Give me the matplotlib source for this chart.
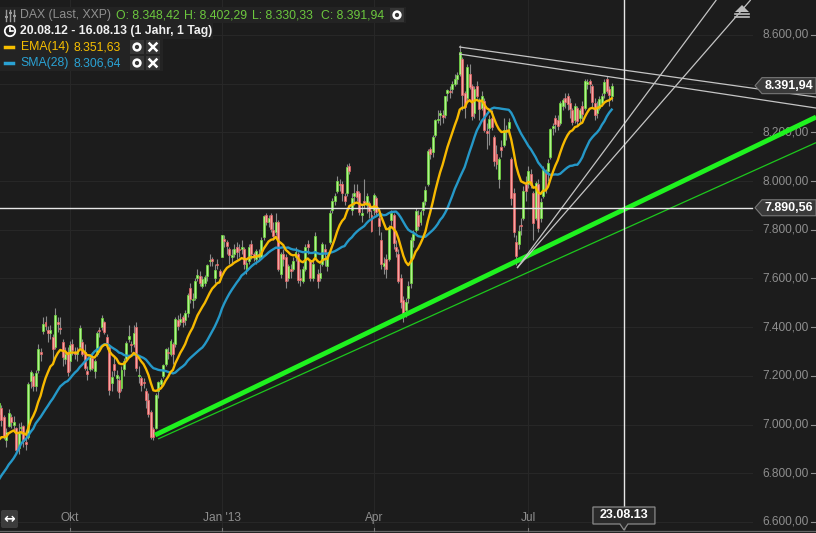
import numpy as np
import pandas as pd
import matplotlib
matplotlib.use("Agg")
import matplotlib.pyplot as plt
from matplotlib.patches import Polygon, Circle, Rectangle, FancyBboxPatch
from matplotlib.lines import Line2D
from matplotlib.transforms import IdentityTransform, blended_transform_factory

plt.rcParams['font.family'] = ['Liberation Sans', 'DejaVu Sans']

# --- data -------------------------------------------------------------
# XETRA trading days 20.08.12 - 16.08.13
holidays = ["2012-12-24", "2012-12-25", "2012-12-26", "2012-12-31", "2013-01-01",
            "2013-03-29", "2013-04-01", "2013-05-01"]
dates = pd.bdate_range("2012-08-20", "2013-08-16")
dates = dates[~dates.isin(pd.to_datetime(holidays))]

# closes Jul 2 - Aug 17 2012, only used to warm up EMA/SMA
warmup_close = [6578, 6601, 6627, 6535, 6410, 6387, 6437, 6444, 6419, 6558,
                6553, 6577, 6578, 6667, 6630, 6420, 6390, 6405, 6582, 6690,
                6773, 6772,
                6808, 6606, 6944, 6919, 6967, 6966, 6964, 6945, 6929, 6970,
                6947, 6953, 7041]

opens = (
    [7030, 7045, 7070, 7030, 6935, 6995, 7030, 7000, 6985, 6905]
    + [6985, 6995, 6925, 6950, 7180, 7200, 7160, 7225, 7300, 7385, 7420, 7390, 7375, 7360, 7320, 7420, 7395, 7340, 7270, 7300]
    + [7260, 7330, 7300, 7290, 7320, 7340, 7300, 7220, 7230, 7275, 7220, 7290, 7390, 7400, 7420, 7360, 7320, 7170, 7250, 7190, 7185, 7150, 7230]
    + [7270, 7350, 7330, 7330, 7400, 7200, 7190, 7175, 7140, 7100, 7050, 6980, 6985, 7140, 7165, 7200, 7250, 7300, 7290, 7330, 7330, 7430]
    + [7420, 7440, 7430, 7460, 7560, 7510, 7520, 7600, 7610, 7570, 7580, 7610, 7670, 7680, 7600, 7660, 7630]
    + [7690, 7760, 7750, 7720, 7690, 7700, 7730, 7720, 7720, 7720, 7640, 7670, 7740, 7700, 7680, 7690, 7690, 7770, 7860, 7830, 7860, 7800]
    + [7790, 7830, 7620, 7700, 7690, 7600, 7640, 7640, 7690, 7700, 7600, 7590, 7640, 7740, 7670, 7600, 7690, 7620, 7600, 7660]
    + [7720, 7650, 7750, 7880, 7920, 7960, 7990, 7990, 7940, 7950, 8060, 7880, 7940, 7960, 7950, 7860, 7920, 7900, 7910, 7860]
    + [7880, 7930, 7850, 7760, 7650, 7680, 7680, 7840, 7860, 7730, 7700, 7600, 7510, 7470, 7520, 7580, 7760, 7800, 7860, 7830, 7880]
    + [7920, 7990, 8130, 8120, 8190, 8250, 8270, 8270, 8270, 8360, 8370, 8380, 8400, 8420, 8440, 8500, 8360, 8340, 8440, 8390, 8280, 8390]
    + [8330, 8300, 8330, 8200, 8220, 8260, 8180, 8110, 8010, 8140, 8150, 8200, 8220, 8090, 7950, 7750, 7740, 7820, 7850, 7990]
    + [7990, 8030, 7950, 7850, 7990, 7850, 7940, 8040, 8040, 8100, 8220, 8260, 8250, 8240, 8310, 8340, 8350, 8320, 8290, 8250, 8300, 8260, 8310]
    + [8300, 8400, 8410, 8390, 8320, 8280, 8300, 8320, 8360, 8420, 8380, 8348.42]
)
highs = (
    [7062, 7105, 7080, 7040, 6985, 7062, 7045, 7035, 6990, 7005]
    + [7010, 7000, 6960, 7175, 7225, 7210, 7225, 7330, 7315, 7440, 7445, 7405, 7410, 7370, 7478, 7440, 7440, 7350, 7320, 7320]
    + [7345, 7350, 7320, 7320, 7410, 7350, 7330, 7240, 7290, 7300, 7270, 7385, 7400, 7450, 7425, 7370, 7330, 7220, 7280, 7225, 7200, 7240, 7275]
    + [7345, 7410, 7345, 7410, 7420, 7240, 7200, 7190, 7150, 7130, 7060, 6990, 7130, 7180, 7190, 7250, 7315, 7320, 7350, 7340, 7440, 7450]
    + [7460, 7450, 7470, 7540, 7580, 7540, 7600, 7640, 7630, 7610, 7615, 7660, 7700, 7690, 7660, 7680, 7640]
    + [7780, 7780, 7760, 7730, 7720, 7740, 7750, 7740, 7760, 7730, 7680, 7740, 7760, 7710, 7720, 7720, 7770, 7860, 7870, 7860, 7870, 7830]
    + [7870, 7840, 7710, 7720, 7700, 7660, 7660, 7690, 7730, 7710, 7640, 7650, 7740, 7760, 7680, 7670, 7790, 7640, 7660, 7750]
    + [7740, 7700, 7880, 7930, 7950, 8020, 8010, 8000, 7950, 8070, 8075, 7950, 7990, 7990, 7960, 7900, 8010, 7950, 7920, 7880]
    + [7950, 7940, 7870, 7790, 7690, 7700, 7820, 7880, 7870, 7760, 7720, 7620, 7530, 7520, 7590, 7770, 7800, 7890, 7880, 7880, 7920]
    + [7980, 8130, 8140, 8190, 8255, 8290, 8290, 8290, 8350, 8380, 8390, 8410, 8440, 8450, 8560, 8510, 8370, 8480, 8480, 8400, 8390, 8410]
    + [8340, 8370, 8340, 8240, 8270, 8290, 8190, 8150, 8100, 8170, 8260, 8230, 8260, 8100, 7970, 7780, 7820, 7850, 7980, 8020]
    + [8060, 8050, 7960, 8000, 8010, 7930, 8060, 8050, 8090, 8220, 8240, 8270, 8270, 8330, 8340, 8360, 8360, 8340, 8300, 8320, 8310, 8300, 8330]
    + [8420, 8420, 8420, 8400, 8340, 8330, 8350, 8360, 8420, 8430, 8390, 8402.29]
)
lows = (
    [7001, 7030, 6995, 6940, 6910, 6990, 6985, 6978, 6885, 6880]
    + [6960, 6910, 6895, 6940, 7150, 7140, 7140, 7210, 7260, 7370, 7390, 7340, 7350, 7250, 7310, 7380, 7370, 7240, 7250, 7200]
    + [7220, 7285, 7270, 7260, 7310, 7280, 7225, 7185, 7220, 7225, 7190, 7280, 7360, 7390, 7370, 7310, 7120, 7140, 7200, 7140, 7110, 7140, 7200]
    + [7260, 7340, 7300, 7320, 7220, 7170, 7140, 7150, 7070, 7030, 6940, 6935, 6980, 7110, 7150, 7190, 7240, 7270, 7280, 7250, 7320, 7390]
    + [7410, 7400, 7410, 7440, 7500, 7480, 7510, 7590, 7570, 7560, 7570, 7590, 7650, 7650, 7580, 7640, 7600]
    + [7690, 7730, 7700, 7660, 7660, 7690, 7680, 7690, 7700, 7640, 7620, 7660, 7680, 7670, 7660, 7670, 7680, 7760, 7820, 7810, 7790, 7760]
    + [7780, 7630, 7600, 7650, 7560, 7590, 7600, 7630, 7670, 7580, 7570, 7580, 7630, 7700, 7590, 7590, 7680, 7560, 7590, 7650]
    + [7650, 7630, 7740, 7870, 7900, 7950, 7960, 7920, 7900, 7940, 8030, 7860, 7900, 7920, 7860, 7830, 7890, 7870, 7850, 7790]
    + [7860, 7860, 7780, 7640, 7620, 7600, 7670, 7820, 7720, 7690, 7580, 7480, 7420, 7440, 7500, 7560, 7730, 7790, 7800, 7820, 7860]
    + [7900, 7980, 8090, 8100, 8180, 8240, 8230, 8240, 8260, 8330, 8340, 8360, 8390, 8400, 8430, 8290, 8260, 8330, 8380, 8250, 8260, 8340]
    + [8250, 8290, 8200, 8130, 8150, 8210, 8060, 8050, 7970, 8100, 8140, 8170, 8200, 7900, 7770, 7655, 7720, 7780, 7840, 7920]
    + [7970, 7970, 7760, 7840, 7790, 7830, 7930, 7950, 8000, 8090, 8190, 8200, 8210, 8230, 8290, 8300, 8290, 8260, 8230, 8240, 8230, 8240, 8250]
    + [8290, 8380, 8360, 8300, 8250, 8260, 8290, 8310, 8340, 8360, 8310, 8330.33]
)
closes = (
    [7040, 7089, 7017, 6950, 6971, 7048, 7012, 7010, 6895, 6970]
    + [6990, 6932, 6922, 7167, 7214, 7158, 7210, 7311, 7289, 7412, 7403, 7378, 7390, 7310, 7451, 7413, 7392, 7277, 7290, 7216]
    + [7326, 7306, 7291, 7298, 7398, 7291, 7234, 7206, 7281, 7233, 7261, 7377, 7384, 7437, 7380, 7328, 7141, 7196, 7223, 7204, 7133, 7226, 7260]
    + [7335, 7364, 7328, 7377, 7232, 7205, 7163, 7169, 7101, 7043, 6950, 6950, 7123, 7173, 7183, 7244, 7309, 7292, 7343, 7288, 7435, 7405]
    + [7435, 7422, 7457, 7534, 7517, 7514, 7589, 7614, 7582, 7597, 7605, 7655, 7673, 7672, 7636, 7655, 7612]
    + [7779, 7756, 7732, 7696, 7695, 7720, 7708, 7715, 7730, 7661, 7663, 7730, 7702, 7690, 7711, 7702, 7759, 7857, 7834, 7849, 7805, 7776]
    + [7833, 7638, 7701, 7680, 7590, 7652, 7632, 7671, 7710, 7593, 7594, 7638, 7728, 7730, 7603, 7661, 7773, 7590, 7622, 7741]
    + [7708, 7691, 7870, 7918, 7937, 8002, 7983, 7950, 7920, 8059, 8043, 7930, 7951, 7933, 7873, 7871, 7912, 7937, 7879, 7795]
    + [7943, 7874, 7817, 7658, 7663, 7637, 7810, 7871, 7744, 7712, 7588, 7503, 7459, 7502, 7571, 7760, 7781, 7879, 7814, 7873, 7914]
    + [7964, 8122, 8113, 8181, 8249, 8255, 8279, 8265, 8348, 8373, 8365, 8399, 8420, 8435, 8530, 8352, 8305, 8467, 8388, 8266, 8378, 8349]
    + [8295, 8351, 8208, 8199, 8254, 8221, 8081, 8070, 8090, 8128, 8211, 8209, 8241, 7929, 7789, 7693, 7797, 7814, 7960, 7959]
    + [8041, 7983, 7829, 7994, 7806, 7914, 8044, 7965, 8074, 8213, 8226, 8236, 8228, 8321, 8331, 8325, 8316, 8296, 8244, 8308, 8246, 8294, 8276]
    + [8410, 8404, 8398, 8325, 8273, 8310, 8338, 8348, 8405, 8370, 8352, 8391.94]
)
for lst in (opens, highs, lows, closes):
    assert len(lst) == len(dates), (len(lst), len(dates))

price_levels = [6600, 6800, 7000, 7200, 7400, 7600, 7800, 8000, 8200, 8400, 8600]
month_ticks = {"2012-10-01": "Okt", "2013-01-02": "Jan '13", "2013-04-02": "Apr", "2013-07-01": "Jul"}

# drawn objects: (trading-day index, price)
support_bold = [(64.7, 6957), (334.4, 8263)]
support_thin = [(65.9, 6941), (334.4, 8158)]
resistance_a = [(188.7, 8551), (334.4, 8345)]
resistance_b = [(188.7, 8522), (334.4, 8300)]
fan_a = [(212.4, 7643), (293.7, 8744)]
fan_b = [(212.4, 7643), (307.7, 8744)]
cross_price = 7890.56
cross_offset = 5  # 23.08.13 = 5 trading days after last candle

# --- colours ----------------------------------------------------------
BG = '#1c1c1c'
GRID = '#272727'
UP_FILL, UP_EDGE = '#b0f28e', '#6edb3a'
DN_FILL, DN_EDGE = '#f7a3a3', '#e86464'
WICK = '#8a8a8a'
EMA_C, SMA_C = '#f7b900', '#2598c8'
LBL = '#8e8e8e'

W, H = 816, 533
fig = plt.figure(figsize=(W / 100, H / 100), dpi=100, facecolor=BG)
ax = fig.add_axes([0, 0, 1, 1])
ax.set_facecolor(BG)
ax.set_xlim(1.43, 334.36)
ax.set_ylim(6554.8, 8743.7)
ax.axis('off')

x = np.arange(len(dates))
o, h, l, c = map(np.array, (opens, highs, lows, closes))

# indicators
all_close = pd.Series(warmup_close + list(closes))
ema = all_close.ewm(span=14, adjust=False).mean().iloc[len(warmup_close):].to_numpy()
sma = all_close.rolling(28).mean().iloc[len(warmup_close):].to_numpy()

# grid
for v in price_levels:
    ax.axhline(v, xmin=0, xmax=752 / W, color=GRID, lw=0.8, zorder=0)
tick_idx = [dates.get_loc(pd.Timestamp(d)) for d in month_ticks]
for i in tick_idx:
    ax.axvline(i, color=GRID, lw=0.8, zorder=0)

# y labels (right, inside); the one behind the last-price tag is hidden
yt = blended_transform_factory(ax.transAxes, ax.transData)
for v in price_levels:
    ax.plot([811 / W, 1.0], [v, v], transform=yt, color=LBL, lw=0.8, zorder=1)
    if abs(v - closes[-1]) < 45:
        continue
    s = f"{v:,.2f}".replace(",", "X").replace(".", ",").replace("X", ".")
    ax.text(809 / W, v, s, transform=yt, ha='right', va='center', color=LBL, fontsize=8.6, zorder=1)

# candles
up = c >= o
bottom = np.minimum(o, c)
height = np.maximum(np.abs(c - o), 5)
ax.vlines(x, l, h, color=WICK, lw=0.8, zorder=2)
ax.bar(x[up], height[up], bottom=bottom[up], width=0.8, color=UP_FILL, edgecolor=UP_EDGE, lw=0.5, zorder=3)
ax.bar(x[~up], height[~up], bottom=bottom[~up], width=0.8, color=DN_FILL, edgecolor=DN_EDGE, lw=0.5, zorder=3)

# moving averages
ax.plot(x, sma, color=SMA_C, lw=1.7, zorder=4)
ax.plot(x, ema, color=EMA_C, lw=1.7, zorder=4)

# trend lines
def seg(pts, **kw):
    ax.plot([p[0] for p in pts], [p[1] for p in pts], solid_capstyle='butt', **kw)

seg(support_bold, color='#1ff21f', lw=3.5, zorder=5)
seg(support_thin, color='#1cc81c', lw=0.9, zorder=5)
for pts in (resistance_a, resistance_b, fan_a, fan_b):
    seg(pts, color='#c4c4c4', lw=0.9, zorder=5)

# crosshair
last = len(dates) - 1
cross_x = last + cross_offset
ax.axhline(cross_price, xmin=0, xmax=752 / W, color='#e6e6e6', lw=1.0, zorder=6)
ax.axvline(cross_x, ymin=4 / H, ymax=1, color='#e6e6e6', lw=1.0, zorder=6)

# x labels and axis line
for i, lab in zip(tick_idx, month_ticks.values()):
    ax.text(i, 6554.8 + 15 / 0.2435, lab, ha='center', va='center', color=LBL, fontsize=8.6, zorder=1)
    ax.plot([i, i], [6554.8 + 2 / 0.2435, 6554.8 + 5 / 0.2435], color='#777777', lw=0.8)
ax.axhline(6554.8 + 2 / 0.2435, color='#666666', lw=0.9, zorder=1)

# --- overlay widgets in pixel coordinates ------------------------------
T = IdentityTransform()


def P(px, py):
    return (px, H - py)


def add(art):
    art.set_transform(T)
    art.set_zorder(8)
    fig.add_artist(art)


def ptext(px, py, s, **kw):
    fig.text(px / W, 1 - py / H, s, va='center', zorder=9, **kw)


def tag_y(v):
    return H - ax.transData.transform((0, v))[1]


# price tags
for v, s in ((closes[-1], "8.391,94"), (cross_price, "7.890,56")):
    yc = tag_y(v)
    add(Polygon([P(755, yc), P(762, yc - 8), P(816, yc - 8), P(816, yc + 8), P(762, yc + 8)],
                closed=True, fc='#3a3a3a', ec='#777777', lw=0.8))
    ptext(789, yc, s, ha='center', color='white', fontsize=9, fontweight='bold')

# date tag
cx = ax.transData.transform((cross_x, 0))[0]
add(Polygon([P(cx - 31, 507), P(cx + 31, 507), P(cx + 31, 524), P(cx + 4, 524), P(cx, 530),
             P(cx - 4, 524), P(cx - 31, 524)], closed=True, fc='#2a2a2a', ec='#8a8a8a', lw=0.9))
ptext(cx, 515.5, "23.08.13", ha='center', color='white', fontsize=9, fontweight='bold')

# scroll button
add(FancyBboxPatch(P(1, 528), 17, 18, boxstyle='round,pad=0,rounding_size=2', fc='#3c3c3c', ec='none'))
ptext(9.5, 519, "↔", ha='center', color='white', fontsize=10, fontweight='bold', family='DejaVu Sans')

# drawing-tool icon top right
add(Polygon([P(735, 12), P(742, 5), P(749, 12)], closed=True, fc='#bdbdbd', ec='none'))
for yy in (14, 16.5):
    add(Line2D([735, 749], [H - yy, H - yy], color='#bdbdbd', lw=1.2))

# header rows
for (x0, y0, w) in ((0, 7, 406), (0, 23, 213), (0, 39, 163), (0, 55, 163)):
    add(Rectangle(P(x0, y0 + 16), w, 16, fc='#232323', ec='none'))

# sliders icon
for xx, yy in ((6, 17), (10, 12.5), (14, 16)):
    add(Line2D([xx, xx], [H - 10, H - 21], color='#9a9a9a', lw=1.0))
    add(Rectangle(P(xx - 1.5, yy + 1), 3, 2, fc='#9a9a9a', ec='none'))

ptext(20.5, 15, "DAX (Last, XXP)", color='#8f8f8f', fontsize=8.8)
for px, s in ((115.7, "O: 8.348,42"), (184, "H: 8.402,29"), (252, "L: 8.330,33"), (320.7, "C: 8.391,94")):
    ptext(px, 15, s, color='#6cc83e', fontsize=8.8)

# clock icon
add(Circle(P(10, 31), 5.2, fc='none', ec='white', lw=1.3))
add(Line2D([10, 10], [H - 31, H - 27.5], color='white', lw=1.2))
add(Line2D([10, 12.8], [H - 31, H - 31], color='white', lw=1.2))
ptext(20, 31, "20.08.12 - 16.08.13 (1 Jahr, 1 Tag)", color='#f0f0f0', fontsize=8.8, fontweight='bold')

# indicator legend rows
for yy, name, val, col in ((47, "EMA(14)", "8.351,63", '#f7bf00'), (63, "SMA(28)", "8.306,64", '#2aa2d4')):
    add(Line2D([4.5, 12.5], [H - yy, H - yy], color=col, lw=2.5))
    ptext(20.5, yy, name, color=col, fontsize=8.8)
    ptext(74, yy, val, color=col, fontsize=8.8)

# buttons (ring / close)
for bx, by in ((397, 15), (137, 47), (137, 63)):
    add(Rectangle(P(bx - 7, by + 7), 14, 14, fc='#363636', ec='none'))
    add(Circle(P(bx, by), 3.4, fc='none', ec='white', lw=1.8))
for bx, by in ((153, 47), (153, 63)):
    add(Rectangle(P(bx - 7, by + 7), 14, 14, fc='#363636', ec='none'))
    add(Line2D([bx - 3.5, bx + 3.5], [H - by - 3.5, H - by + 3.5], color='white', lw=1.8))
    add(Line2D([bx - 3.5, bx + 3.5], [H - by + 3.5, H - by - 3.5], color='white', lw=1.8))

fig.savefig("out.png", dpi=100, facecolor=BG)
